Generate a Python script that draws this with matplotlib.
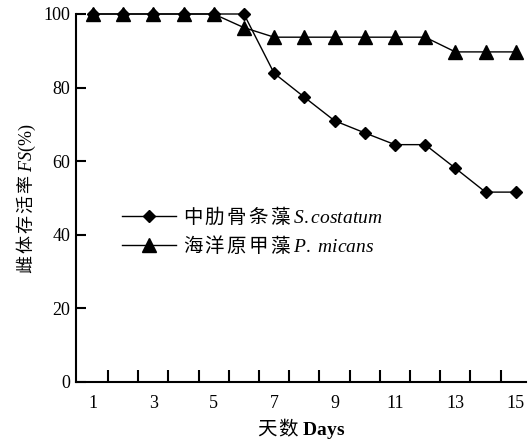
import matplotlib
matplotlib.use("Agg")
import matplotlib.pyplot as plt
from matplotlib.font_manager import FontProperties
import numpy as np

# Survival of female copepods fed two algal diets
days = [1, 2, 3, 4, 5, 6, 7, 8, 9, 10, 11, 12, 13, 14, 15]
s_costatum = [100, 100, 100, 100, 100, 100, 83.9, 77.4, 71.0, 67.7, 64.5, 64.5, 58.1, 51.6, 51.6]
p_micans = [100, 100, 100, 100, 100, 96.3, 93.7, 93.7, 93.7, 93.7, 93.7, 93.7, 89.7, 89.7, 89.7]
x_ticklabels = [1, 3, 5, 7, 9, 11, 13, 15]
y_ticks = [0, 20, 40, 60, 80, 100]

plt.rcParams['font.family'] = ['Liberation Serif', 'Noto Sans CJK SC']
# Mixed labels: plain runs take the text's own (CJK) face, $...$ runs use serif faces
plt.rcParams['mathtext.fontset'] = 'custom'
plt.rcParams['mathtext.rm'] = 'Liberation Serif'
plt.rcParams['mathtext.sf'] = 'Liberation Serif'
plt.rcParams['mathtext.it'] = 'Liberation Serif:italic'
plt.rcParams['mathtext.bf'] = 'Liberation Serif:bold'

cjk = 'Noto Sans CJK SC'


def spaced(s):
    """Open up CJK characters with thin spaces, as in typeset figures."""
    return '$\\,$'.join(s)


fig = plt.figure(figsize=(5.28, 4.47), dpi=100)
ax = fig.add_axes([76 / 528, 65 / 447, (526 - 76) / 528, (382 - 14) / 447])

ax.plot(days, s_costatum, color='black', lw=1.0, marker='D', markersize=6.5,
        label=spaced('中肋骨条藻') + '$\\;\\it{S.costatum}$', clip_on=False, zorder=3)
ax.plot(days, p_micans, color='black', lw=1.0, marker='^', markersize=9.5,
        label=spaced('海洋原甲藻') + '$\\;\\it{P.\\ micans}$', clip_on=False, zorder=3)

ax.set_xlim(0.44, 15.34)
ax.set_ylim(0, 100)

# Day labels sit under the points; tick marks fall between the days
ax.set_xticks(x_ticklabels)
ax.set_xticklabels([str(v) for v in x_ticklabels])
ax.set_xticks(np.arange(1.5, 15, 1.0), minor=True)
ax.tick_params(axis='x', which='major', length=0, pad=9, labelsize=13)
ax.tick_params(axis='x', which='minor', direction='in', length=9, width=1.5)

ax.set_yticks(y_ticks)
ax.tick_params(axis='y', direction='in', length=7, width=1.5, pad=4, labelsize=13)

for side in ['top', 'right']:
    ax.spines[side].set_visible(False)
for side in ['left', 'bottom']:
    ax.spines[side].set_linewidth(1.5)

ax.set_xlabel(spaced('天数') + ' $\\mathbf{Days}$', fontsize=14, family=cjk, labelpad=3)
ax.set_ylabel(spaced('雌体存活率') + ' $\\it{FS}\\mathsf{(\\%)}$', fontsize=13, family=cjk, labelpad=4)

ax.legend(loc='upper left', bbox_to_anchor=(0.085, 0.5), frameon=False,
          prop=FontProperties(family=cjk, size=14),
          handlelength=2.8, handletextpad=0.35, labelspacing=0.3,
          borderaxespad=0)

fig.savefig('out.png', dpi=100)
